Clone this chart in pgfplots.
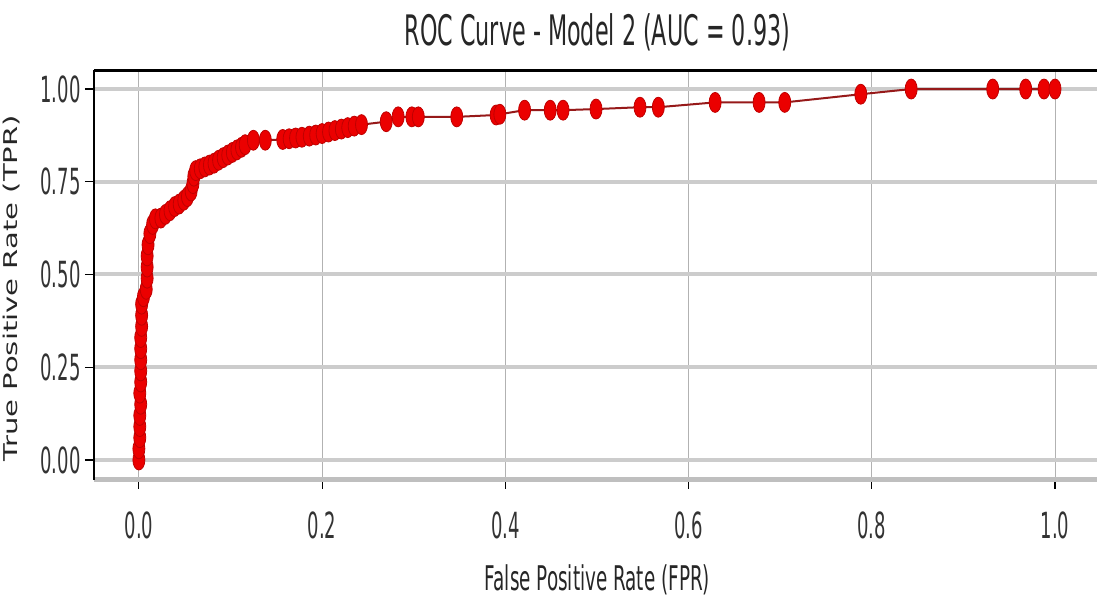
\documentclass[border=0pt]{standalone}
\usepackage{fontspec}
\setmainfont{DejaVu Sans}[FakeStretch=0.5]
\newfontfamily\titlefont{DejaVu Sans}[FakeStretch=0.53]
\newfontfamily\xlabfont{DejaVu Sans}[FakeStretch=0.54]
\newfontfamily\ylabfont{DejaVu Sans}[FakeStretch=1.53]
\usepackage{pgfplots}
\pgfplotsset{compat=1.18}
\usepackage{pgfplotstable}
\definecolor{linered}{RGB}{150,25,25}
\definecolor{markred}{RGB}{235,0,0}
\pgfplotstableread{
fpr tpr
0.000 0.000
0.000 0.030
0.001 0.060
0.001 0.090
0.001 0.120
0.002 0.150
0.001 0.180
0.002 0.210
0.002 0.240
0.002 0.270
0.002 0.300
0.002 0.330
0.003 0.360
0.003 0.390
0.003 0.420
0.005 0.440
0.008 0.460
0.009 0.490
0.009 0.520
0.009 0.550
0.010 0.580
0.012 0.610
0.015 0.635
0.018 0.650
0.024 0.652
0.029 0.662
0.034 0.672
0.039 0.683
0.044 0.690
0.049 0.700
0.053 0.710
0.057 0.725
0.059 0.745
0.060 0.765
0.062 0.780
0.067 0.785
0.072 0.790
0.077 0.795
0.082 0.800
0.087 0.808
0.092 0.815
0.097 0.822
0.102 0.829
0.107 0.836
0.112 0.843
0.116 0.850
0.125 0.862
0.138 0.862
0.157 0.864
0.164 0.866
0.171 0.868
0.178 0.870
0.186 0.873
0.193 0.876
0.200 0.880
0.207 0.884
0.214 0.888
0.221 0.892
0.228 0.896
0.235 0.900
0.243 0.904
0.270 0.912
0.283 0.925
0.298 0.925
0.305 0.925
0.347 0.925
0.390 0.930
0.394 0.932
0.421 0.943
0.449 0.943
0.463 0.943
0.499 0.946
0.547 0.951
0.567 0.951
0.629 0.964
0.677 0.964
0.705 0.964
0.788 0.986
0.843 1.000
0.932 1.000
0.968 1.000
0.988 1.000
1.000 1.000
}\roctable
\begin{document}
\begin{tikzpicture}
\begin{axis}[
  at={(0,0)}, anchor=south west,
  scale only axis, width=503.4pt, height=204.75pt,
  xmin=-0.049, xmax=1.05, ymin=-0.054, ymax=1.05,
  xtick={0,0.2,0.4,0.6,0.8,1.0},
  xticklabels={0.0,0.2,0.4,0.6,0.8,1.0},
  ytick={0,0.25,0.5,0.75,1},
  yticklabels={0.00,0.25,0.50,0.75,1.00},
  tick align=outside, major tick length=4.5pt,
  tick style={black, line width=0.6pt},
  xtick pos=bottom, ytick pos=left,
  tick label style={font=\fontsize{18}{18}\selectfont, text=black!80},
  yticklabel style={anchor=east, inner sep=0pt, xshift=-2pt},
  xticklabel style={anchor=center, inner sep=0pt, yshift=-18pt},
  axis line style={draw=none},
  grid=major,
  x grid style={gray!60, line width=0.5pt},
  y grid style={gray!40, line width=2pt},
  title={ROC Curve - Model 2 (AUC = 0.93)},
  title style={font=\titlefont\fontsize{21}{21}\selectfont, text=black!85, at={(axis description cs:0.5,1)}, anchor=center, yshift=13.25pt},
  xlabel={False Positive Rate (FPR)},
  xlabel style={font=\xlabfont\fontsize{17}{17}\selectfont, text=black!85, at={(axis description cs:0.5,0)}, anchor=center, yshift=-50pt},
  ylabel={True Positive Rate (TPR)},
  ylabel style={font=\ylabfont\fontsize{9.5}{9.5}\selectfont, text=black!85, at={(axis description cs:0,0.5)}, anchor=center, xshift=-6.5pt, yshift=41pt},
  clip=false,
]
\draw[gray!50, line width=2.5pt] (rel axis cs:0,0) -- (rel axis cs:1,0);
\draw[black, line width=1.5pt] (rel axis cs:0,1) -- (rel axis cs:1,1);
\draw[black, line width=1pt] (rel axis cs:0,0) -- (rel axis cs:0,1);
\addplot[color=linered, line width=1pt, mark=*, mark size=5pt,
  mark options={xscale=0.6, fill=markred, draw=red!75!black, line width=0.4pt, solid}]
  table[x=fpr, y=tpr] {\roctable};
\end{axis}
\pgfresetboundingbox
\path (-47pt,-61.5pt) rectangle (501.5pt,240pt);
\end{tikzpicture}
\end{document}
